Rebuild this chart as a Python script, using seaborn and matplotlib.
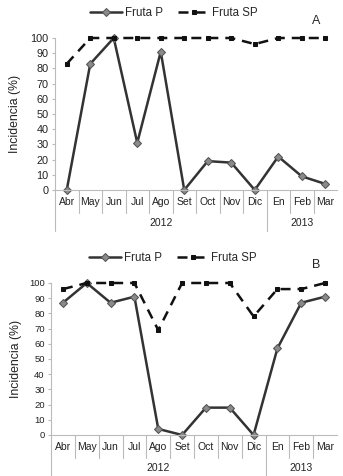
import matplotlib
matplotlib.use("Agg")
import matplotlib.pyplot as plt
import matplotlib.transforms as mtransforms
import seaborn as sns
import pandas as pd

sns.set_style("white")
plt.rcParams['font.family'] = ['Liberation Sans', 'DejaVu Sans']

months = ["Abr", "May", "Jun", "Jul", "Ago", "Set", "Oct", "Nov", "Dic", "En", "Feb", "Mar"]
years = ["2012", "2013"]
year_spans = [9, 3]

a_fruta_p = [0, 83, 100, 31, 91, 0, 19, 18, 0, 22, 9, 4]
a_fruta_sp = [83, 100, 100, 100, 100, 100, 100, 100, 96, 100, 100, 100]
b_fruta_p = [87, 100, 87, 91, 4, 0, 18, 18, 0, 57, 87, 91]
b_fruta_sp = [96, 100, 100, 100, 69, 100, 100, 100, 78, 96, 96, 100]

W, H = 343, 476
fig = plt.figure(figsize=(W / 100, H / 100), dpi=100)


def panel(rect, p_vals, sp_vals, letter, letter_xy, legend_xy, tick_fs, ylab_x):
    ax = fig.add_axes(rect)
    dfp = pd.DataFrame({"Mes": months, "Incidencia": p_vals})
    dfs = pd.DataFrame({"Mes": months, "Incidencia": sp_vals})
    sns.lineplot(data=dfp, x="Mes", y="Incidencia", ax=ax, color="#333333",
                 marker="D", markersize=4.5, markerfacecolor="#8a8a8a",
                 markeredgecolor="#555555", linewidth=1.8, label="Fruta P",
                 sort=False, clip_on=False)
    sns.lineplot(data=dfs, x="Mes", y="Incidencia", ax=ax, color="#111111",
                 marker="s", markersize=3.5, markerfacecolor="#111111",
                 markeredgecolor="#111111", linewidth=1.8, linestyle=(0, (4, 2.8)),
                 label="Fruta SP", sort=False, clip_on=False)
    ax.set_xlim(-0.5, len(months) - 0.5)
    ax.set_ylim(0, 100)
    ax.set_yticks(range(0, 101, 10))
    ax.tick_params(axis="y", labelsize=tick_fs, length=2.5, width=0.8, direction="out",
                   pad=2, color="#bbbbbb", labelcolor="#222222", left=True)
    ax.set_xticks(range(len(months)))
    ax.set_xticklabels(months, fontsize=7.5, color="#222222")
    ax.tick_params(axis="x", length=0, pad=5)
    ax.set_xlabel("")
    ax.set_ylabel("")
    for s in ["top", "right"]:
        ax.spines[s].set_visible(False)
    ax.spines["bottom"].set_color("#bbbbbb")
    ax.spines["left"].set_color("#bbbbbb")
    ax.spines["left"].set_linewidth(0.8)
    trans = mtransforms.blended_transform_factory(ax.transData, ax.transAxes)
    long_pos = [-0.5]
    acc = -0.5
    for span in year_spans:
        acc += span
        long_pos.append(acc)
    for k in range(len(months)):
        xpos = k - 0.5
        y_end = -0.27 if xpos in long_pos else -0.15
        ax.plot([xpos, xpos], [0, y_end], transform=trans, color="#bbbbbb",
                linewidth=0.8, clip_on=False)
    start = 0
    for yr, span in zip(years, year_spans):
        center = start + (span - 1) / 2
        ax.text(center, -0.215, yr, transform=trans, ha="center", va="center",
                fontsize=7.5, color="#222222")
        start += span
    ax.legend_.remove()
    h, l = ax.get_legend_handles_labels()
    fig.legend(h, l, loc="center", bbox_to_anchor=legend_xy, ncol=2, frameon=False,
               fontsize=8.3, handlelength=2.8, columnspacing=1.3, handletextpad=0.2)
    fig.text(letter_xy[0], letter_xy[1], letter, fontsize=9, ha="center", va="center")
    fig.text(ylab_x, rect[1] + rect[3] / 2, "Incidencia (%)", rotation=90,
             fontsize=8.8, ha="center", va="center", color="#222222")
    return ax


panel([55 / W, 286 / H, 282 / W, 152 / H], a_fruta_p, a_fruta_sp, "A",
      (316 / W, 1 - 21 / H), (174 / W, 1 - 13 / H), 7.8, 15 / W)
panel([51 / W, 41 / H, 286 / W, 152 / H], b_fruta_p, b_fruta_sp, "B",
      (316 / W, 1 - 265 / H), (173 / W, 1 - 258 / H), 6.8, 16 / W)

fig.savefig("out.png", dpi=100)
